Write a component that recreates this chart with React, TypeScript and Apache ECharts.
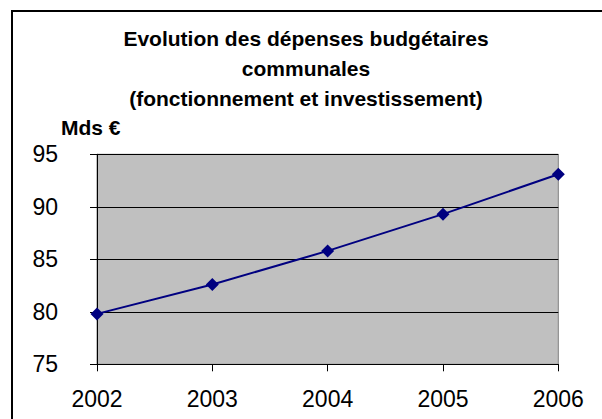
import React, { useEffect, useRef } from "react";
import * as echarts from "echarts";

const years = ["2002", "2003", "2004", "2005", "2006"];
const depenses = [79.8, 82.6, 85.8, 89.3, 93.1];
const titleLines = [
  "Evolution des dépenses budgétaires",
  "communales",
  "(fonctionnement et investissement)",
];
const unitLabel = "Mds €";

export default function App() {
  const ref = useRef<HTMLDivElement>(null);
  useEffect(() => {
    if (!ref.current) return;
    const chart = echarts.init(ref.current, null, { renderer: "svg" });
    const font = "'Liberation Sans', Arial, sans-serif";
    chart.setOption({
      animation: false,
      backgroundColor: "#ffffff",
      grid: {
        left: 97,
        top: 154.3,
        right: 43.7,
        bottom: 54.7,
        show: true,
        backgroundColor: "#C0C0C0",
        borderColor: "#808080",
        borderWidth: 1,
      },
      graphic: [
        {
          type: "rect",
          shape: { x: 12, y: 11, width: 700, height: 500 },
          style: { fill: "none", stroke: "#000", lineWidth: 2 },
          silent: true,
        },
        {
          type: "text",
          x: 306,
          y: 23,
          style: {
            text: titleLines.join("\n"),
            textAlign: "center",
            textVerticalAlign: "top",
            fontFamily: font,
            fontSize: 21,
            fontWeight: "bold",
            lineHeight: 30,
            fill: "#000",
          },
        },
        {
          type: "text",
          x: 61,
          y: 117,
          style: {
            text: unitLabel,
            textAlign: "left",
            textVerticalAlign: "top",
            fontFamily: font,
            fontSize: 21,
            fontWeight: "bold",
            fill: "#000",
          },
        },
      ],
      xAxis: {
        type: "category",
        data: years,
        boundaryGap: false,
        axisLine: { show: true, lineStyle: { color: "#000", width: 1 } },
        axisTick: { show: true, length: 7, lineStyle: { color: "#000" } },
        axisLabel: { color: "#000", fontFamily: font, fontSize: 23, margin: 23 },
        splitLine: { show: false },
      },
      yAxis: {
        type: "value",
        min: 75,
        max: 95,
        interval: 5,
        axisLine: { show: true, lineStyle: { color: "#000", width: 1 } },
        axisTick: { show: true, length: 7, lineStyle: { color: "#000" } },
        axisLabel: { color: "#000", fontFamily: font, fontSize: 23, margin: 39 },
        splitLine: { show: true, lineStyle: { color: "#000", width: 1 } },
      },
      series: [
        {
          type: "line",
          data: depenses,
          symbol: "diamond",
          symbolSize: 13,
          lineStyle: { color: "#000080", width: 2 },
          itemStyle: { color: "#000080" },
        },
      ],
    });
    return () => chart.dispose();
  }, []);
  return (
    <div
      ref={ref}
      style={{ position: "fixed", left: 0, top: 0, width: 602, height: 419 }}
    />
  );
}
